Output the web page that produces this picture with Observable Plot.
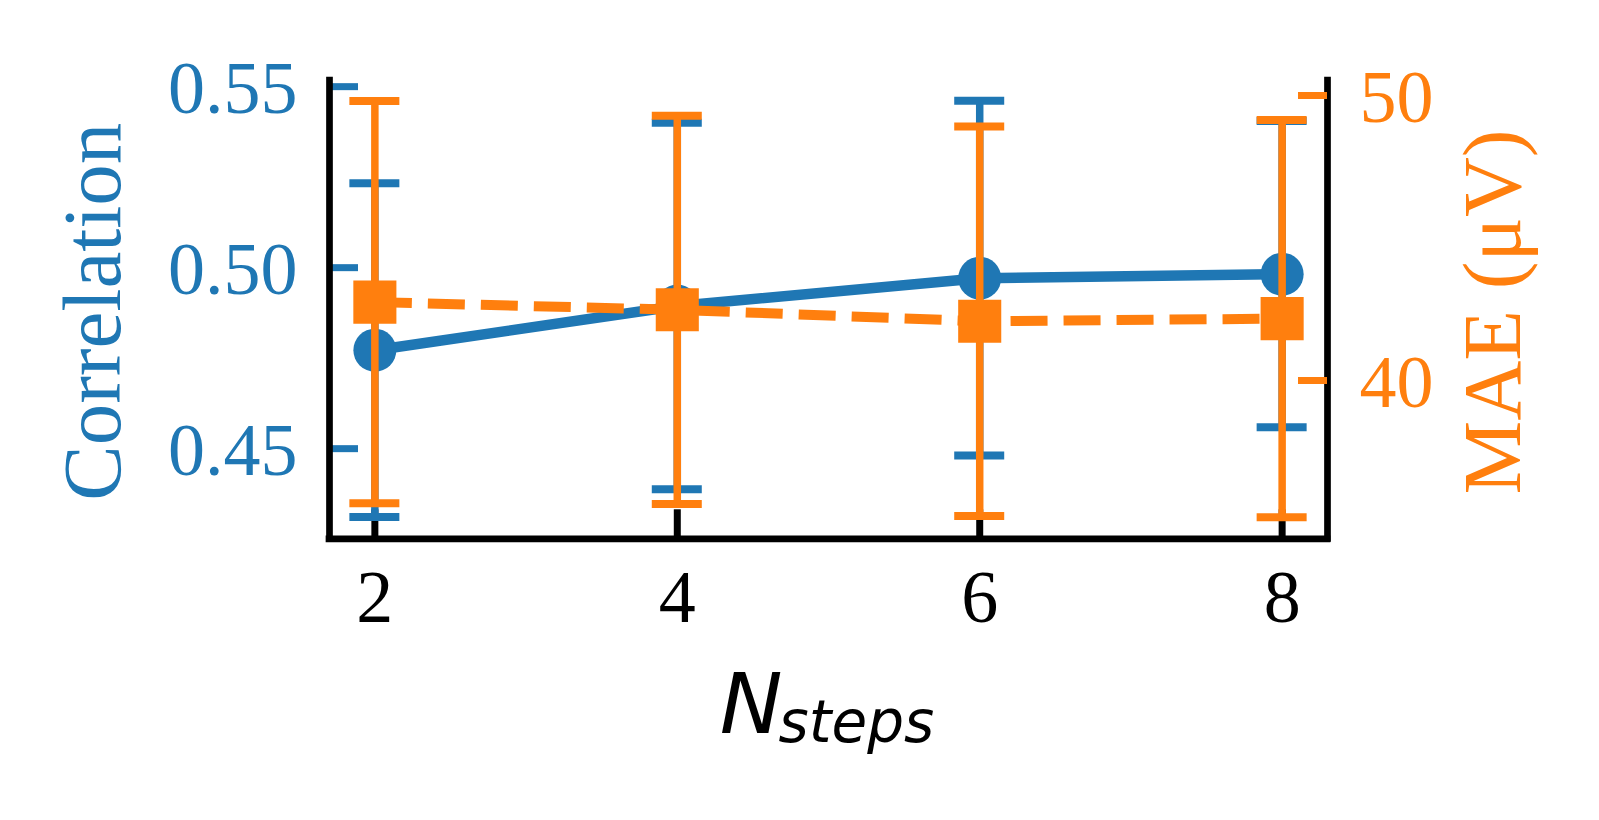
<!DOCTYPE html>
<html><head><meta charset="utf-8">
<script src="https://cdn.jsdelivr.net/npm/d3@7"></script>
<script src="https://cdn.jsdelivr.net/npm/@observablehq/plot@0.6"></script>
<style>
html,body{margin:0;padding:0;background:#fff;overflow:hidden}
#chart{position:relative;width:1599px;height:820px}
#chart svg{position:absolute;left:0;top:0}
</style></head><body><div id="chart"></div>
<script>
// ---- data ----
const steps = [2, 4, 6, 8];
const corr = [0.4772, 0.4894, 0.4971, 0.4982];
const corrErr = [0.0461, 0.0506, 0.0490, 0.0423];
const mae = [42.75, 42.48, 42.08, 42.17];
const maeErr = [7.06, 6.81, 6.83, 6.97];
const xTicks = [2, 4, 6, 8];
const corrTicks = [0.45, 0.50, 0.55];
const maeTicks = [40, 50];
const xDomain = [1.7, 8.3];
const corrDomain = [0.4251, 0.5517];
const maeDomain = [34.446, 50.526];

// ---- style ----
const BLUE = "#1f77b4", ORANGE = "#ff7f0e";
const SERIF = "'Liberation Serif', 'Times New Roman', serif";
const W = 1599, H = 820, mL = 329, mR = 272, mT = 80, mB = 281.7;
const pw = W - mL - mR, ph = H - mT - mB;

const blueData = steps.map((s, i) => ({step: s, v: corr[i], lo: corr[i] - corrErr[i], hi: corr[i] + corrErr[i]}));
const orangeData = steps.map((s, i) => ({step: s, v: mae[i], lo: mae[i] - maeErr[i], hi: mae[i] + maeErr[i]}));

const common = {
  width: W, height: H, marginLeft: mL, marginRight: mR, marginTop: mT, marginBottom: mB,
  style: {background: "transparent", overflow: "visible", fontFamily: SERIF}
};

const p1 = Plot.plot({
  ...common,
  x: {domain: xDomain},
  y: {domain: corrDomain},
  marks: [
    Plot.ruleY(corrTicks, {stroke: BLUE, strokeWidth: 7, insetRight: pw - 29}),
    Plot.ruleX(xTicks, {stroke: "black", strokeWidth: 7, insetTop: ph - 29}),
    Plot.axisY(corrTicks, {anchor: "left", tickSize: 0, tickPadding: 32, dy: 3, color: BLUE, fontSize: 74, fontFamily: SERIF, tickFormat: d3.format(".2f"), label: null}),
    Plot.axisX(xTicks, {anchor: "bottom", tickSize: 0, tickPadding: 31, color: "black", fontSize: 74, fontFamily: SERIF, tickFormat: d3.format("d"), label: null}),
    Plot.ruleX(blueData, {x: "step", y1: "lo", y2: "hi", stroke: BLUE, strokeWidth: 7.5}),
    Plot.ruleY(blueData, {y: "lo", x1: "step", x2: "step", insetLeft: -25, insetRight: -25, stroke: BLUE, strokeWidth: 8}),
    Plot.ruleY(blueData, {y: "hi", x1: "step", x2: "step", insetLeft: -25, insetRight: -25, stroke: BLUE, strokeWidth: 8}),
    Plot.line(blueData, {x: "step", y: "v", stroke: BLUE, strokeWidth: 10.5}),
    Plot.dot(blueData, {x: "step", y: "v", r: 21.5, fill: BLUE, stroke: null}),
    Plot.ruleX(xDomain, {stroke: "black", strokeWidth: 6.7, strokeLinecap: "square"}),
    Plot.ruleY([corrDomain[0]], {stroke: "black", strokeWidth: 6.7, strokeLinecap: "square"}),
    Plot.text(["Correlation"], {frameAnchor: "left", textAnchor: "middle", lineAnchor: "middle", rotate: -90, dx: -235.6, dy: 2, fontSize: 83, fill: BLUE, fontFamily: SERIF}),
    Plot.text(["N"], {frameAnchor: "bottom", textAnchor: "end", lineAnchor: "middle", dx: -46, dy: 167.5, fontSize: 84, fontStyle: "italic", fontFamily: "'DejaVu Sans'", fill: "black"}),
    Plot.text(["steps"], {frameAnchor: "bottom", textAnchor: "start", lineAnchor: "middle", dx: -50, dy: 185, fontSize: 58, fontStyle: "italic", fontFamily: "'DejaVu Sans'", fill: "black"})
  ]
});

const p2 = Plot.plot({
  ...common,
  x: {domain: xDomain, axis: null},
  y: {domain: maeDomain},
  marks: [
    Plot.ruleY(maeTicks, {stroke: ORANGE, strokeWidth: 7, insetLeft: pw - 29}),
    Plot.axisY(maeTicks, {anchor: "right", tickSize: 0, tickPadding: 32, dy: 3, color: ORANGE, fontSize: 74, fontFamily: SERIF, label: null}),
    Plot.ruleX(orangeData, {x: "step", y1: "lo", y2: "hi", stroke: ORANGE, strokeWidth: 7.5}),
    Plot.ruleY(orangeData, {y: "lo", x1: "step", x2: "step", insetLeft: -25, insetRight: -25, stroke: ORANGE, strokeWidth: 8}),
    Plot.ruleY(orangeData, {y: "hi", x1: "step", x2: "step", insetLeft: -25, insetRight: -25, stroke: ORANGE, strokeWidth: 8}),
    Plot.line(orangeData, {x: "step", y: "v", stroke: ORANGE, strokeWidth: 10, strokeDasharray: "37,16", strokeLinecap: "butt"}),
    Plot.dot(orangeData, {x: "step", y: "v", symbol: "square", r: 24.3, fill: ORANGE, stroke: null}),
    Plot.text(["MAE (μV)"], {frameAnchor: "right", textAnchor: "middle", lineAnchor: "middle", rotate: -90, dx: 166, dy: 2.3, fontSize: 83, fill: ORANGE, fontFamily: SERIF})
  ]
});

document.getElementById("chart").append(p1, p2);
</script>
</body></html>
